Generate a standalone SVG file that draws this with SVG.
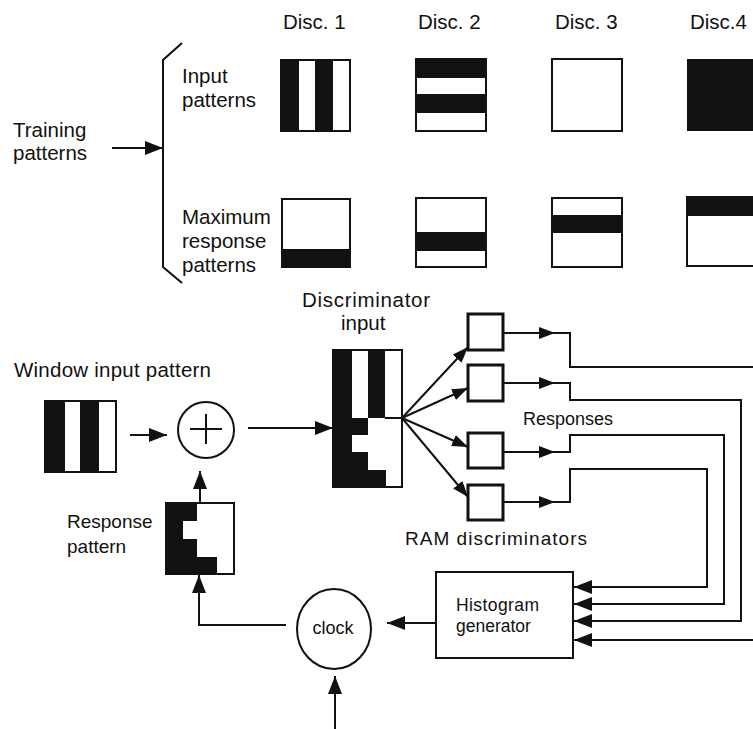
<svg xmlns="http://www.w3.org/2000/svg" width="753" height="729" viewBox="0 0 753 729">
<defs>
<style>
text{font-family:"Liberation Sans",Arial,Helvetica,sans-serif;fill:#111}
.t20{font-size:20.5px}
.t19{font-size:19px}
.t18{font-size:18px}
.t17{font-size:17.5px}
.blk{fill:#111}
.ol{fill:none;stroke:#111;stroke-width:2}
.wb{fill:#fff;stroke:#111;stroke-width:2}
.ram{fill:#fff;stroke:#111;stroke-width:3}
.ln{fill:none;stroke:#111;stroke-width:2}
.a{marker-end:url(#ah)}
.as{marker-end:url(#ahs)}
</style>
<marker id="ah" markerUnits="userSpaceOnUse" markerWidth="19" markerHeight="15" refX="18" refY="7" orient="auto"><path d="M0,0 L18,7 L0,14 Z" fill="#111"/></marker>
<marker id="ahs" markerUnits="userSpaceOnUse" markerWidth="17" markerHeight="13" refX="16" refY="6" orient="auto"><path d="M0,0 L16,6 L0,12 Z" fill="#111"/></marker>
</defs>
<rect width="753" height="729" fill="#fff"/>

<g id="disc-labels" class="t20">
<text x="283" y="29">Disc. 1</text>
<text x="418" y="29">Disc. 2</text>
<text x="555" y="29">Disc. 3</text>
<text x="690" y="29">Disc.4</text>
</g>

<g id="training-label" class="t20">
<text x="13" y="137">Training</text>
<text x="13" y="160">patterns</text>
</g>

<g id="bracket">
<path class="ln" d="M182,43 L163,60 L163,267 L182,283"/>
</g>

<g id="input-label" class="t20">
<text x="182" y="83">Input</text>
<text x="182" y="107">patterns</text>
</g>

<g id="max-label" class="t20">
<text x="182" y="224">Maximum</text>
<text x="182" y="248">response</text>
<text x="182" y="272">patterns</text>
</g>

<g id="disc1-input">
<rect class="blk" x="281" y="60" width="18" height="71"/>
<rect class="blk" x="315" y="60" width="18" height="71"/>
<rect class="ol" x="281" y="60" width="69" height="71"/>
</g>
<g id="disc2-input">
<rect class="blk" x="416" y="59" width="70" height="19"/>
<rect class="blk" x="416" y="94" width="70" height="19"/>
<rect class="ol" x="416" y="59" width="70" height="72"/>
</g>
<g id="disc3-input">
<rect class="ol" x="552" y="59" width="70" height="72"/>
</g>
<g id="disc4-input">
<rect class="blk" x="687" y="59" width="72" height="72"/>
</g>

<g id="disc1-max">
<rect class="blk" x="282" y="249" width="68" height="18"/>
<rect class="ol" x="282" y="199" width="68" height="68"/>
</g>
<g id="disc2-max">
<rect class="blk" x="416" y="232" width="70" height="19"/>
<rect class="ol" x="416" y="198" width="70" height="69"/>
</g>
<g id="disc3-max">
<rect class="blk" x="552" y="215" width="70" height="18"/>
<rect class="ol" x="552" y="198" width="70" height="69"/>
</g>
<g id="disc4-max">
<rect class="blk" x="687" y="197" width="72" height="19"/>
<rect class="ol" x="687" y="197" width="72" height="69"/>
</g>

<g id="window-label" class="t20">
<text x="14" y="377" textLength="197" lengthAdjust="spacing">Window input pattern</text>
</g>
<g id="window-pattern">
<rect class="blk" x="45" y="401" width="20" height="71"/>
<rect class="blk" x="80" y="401" width="19" height="71"/>
<rect class="ol" x="45" y="401" width="71" height="71"/>
</g>

<g id="adder">
<circle class="ol" cx="206" cy="430" r="28"/>
<path class="ln" d="M190,429 H222 M206,414 V444"/>
</g>

<g id="response-label" class="t19">
<text x="67" y="528">Response</text>
<text x="67" y="553">pattern</text>
</g>
<g id="response-pattern">
<path class="blk" d="M166,503 H197 V521 H183 V539 H197 V557 H217 V574 H166 Z"/>
<rect class="ol" x="166" y="503" width="68" height="71"/>
</g>

<g id="disc-input-label" class="t20">
<text x="302" y="307" textLength="128" lengthAdjust="spacing">Discriminator</text>
<text x="341" y="330">input</text>
</g>
<g id="disc-input">
<rect class="blk" x="333" y="350" width="19" height="68"/>
<rect class="blk" x="368" y="350" width="17" height="68"/>
<path class="blk" d="M333,418 H368 V435 H352 V452 H368 V470 H386 V487 H333 Z"/>
<path class="ln" d="M385,418 H402"/>
<rect class="ol" x="333" y="350" width="69" height="137"/>
</g>

<g id="ram1"><rect class="ram" x="468" y="314" width="35" height="36"/></g>
<g id="ram2"><rect class="ram" x="468" y="365" width="35" height="36"/></g>
<g id="ram3"><rect class="ram" x="468" y="433" width="35" height="35"/></g>
<g id="ram4"><rect class="ram" x="468" y="485" width="35" height="35"/></g>

<g id="responses-label" class="t18">
<text x="523" y="425">Responses</text>
</g>
<g id="ram-label" class="t19">
<text x="405" y="545" textLength="182" lengthAdjust="spacing">RAM discriminators</text>
</g>

<g id="histogram">
<rect class="wb" x="436" y="572" width="137" height="86"/>
<text class="t17" x="456" y="611" textLength="83" lengthAdjust="spacing">Histogram</text>
<text class="t17" x="456" y="632">generator</text>
</g>

<g id="clock">
<ellipse class="ol" cx="334" cy="629" rx="37" ry="40"/>
<text class="t18" x="333" y="634" text-anchor="middle">clock</text>
</g>

<g id="connectors">
<path class="ln a" d="M112,148 H163"/>
<path class="ln a" d="M130,435 H167"/>
<path class="ln a" d="M248,428 H333"/>
<path class="ln a" d="M200,503 V471"/>
<path class="ln as" d="M402,418 L468,347"/>
<path class="ln as" d="M402,418 L468,388"/>
<path class="ln as" d="M402,418 L468,447"/>
<path class="ln as" d="M402,418 L468,497"/>
<path class="ln as" d="M503,333 H555"/>
<path class="ln as" d="M503,383 H555"/>
<path class="ln as" d="M503,452 H555"/>
<path class="ln as" d="M503,502 H555"/>
<path class="ln" d="M554,333 H570 V367 H753"/>
<path class="ln a" d="M554,383 H570 V400 H741 V621 H574"/>
<path class="ln a" d="M554,452 H570 V435 H724 V604 H574"/>
<path class="ln a" d="M554,502 H570 V469 H707 V587 H574"/>
<path class="ln a" d="M753,640 H574"/>
<path class="ln a" d="M436,623 H387"/>
<path class="ln a" d="M286,625 H199 V575"/>
<path class="ln a" d="M335,729 V676"/>
</g>
</svg>
